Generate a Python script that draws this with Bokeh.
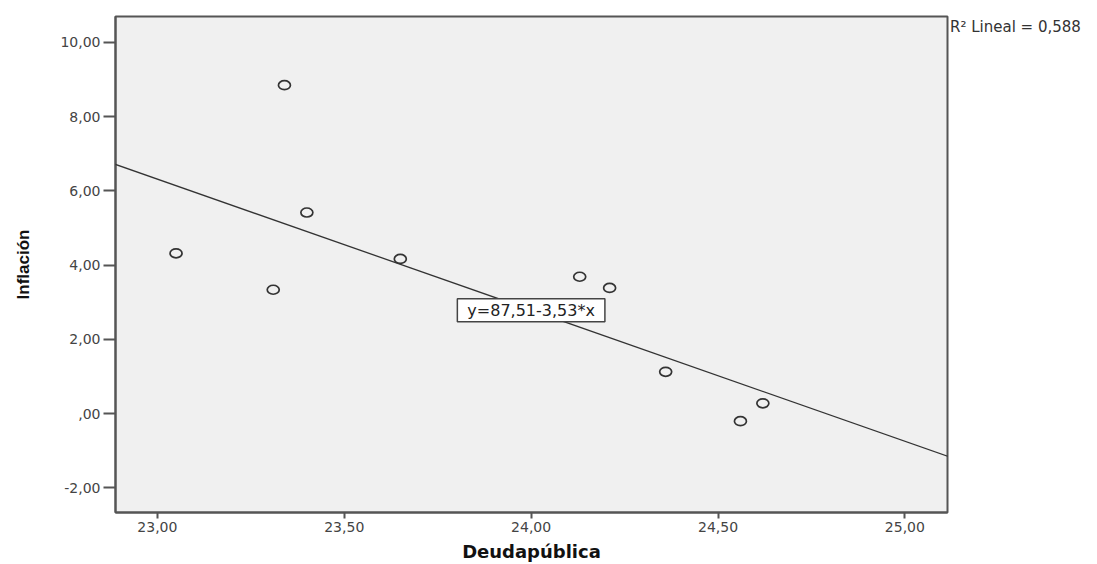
from bokeh.plotting import figure
from bokeh.models import (Range1d, FixedTicker, CustomJSTickFormatter, Slope, Label, Div)
from bokeh.layouts import row
from bokeh.embed import file_html
from bokeh.resources import INLINE

# ---- data ----
deuda = [23.34, 23.40, 23.05, 23.65, 23.31, 24.13, 24.21, 24.36, 24.62, 24.56]
inflacion = [8.85, 5.42, 4.32, 4.17, 3.34, 3.69, 3.39, 1.13, 0.28, -0.20]
intercept = 87.51
slope = -3.53
r2 = 0.588
x_ticks = [23.0, 23.5, 24.0, 24.5, 25.0]
y_ticks = [-2, 0, 2, 4, 6, 8, 10]
eq_text = "y=87,51-3,53*x"
r2_text = "R\u00b2 Lineal = 0,588"

X0, X1 = 22.888, 25.114
Y0, Y1 = -2.66, 10.70

p = figure(width=949, height=564, output_backend="svg", toolbar_location=None,
           x_range=Range1d(X0, X1), y_range=Range1d(Y0, Y1))
p.min_border_left = 115
p.min_border_right = 2
p.min_border_top = 16
p.min_border_bottom = 52
p.background_fill_color = "#f0f0f0"
p.border_fill_color = "white"
p.outline_line_color = "#555555"
p.outline_line_width = 2
p.grid.visible = False

fmt = CustomJSTickFormatter(code="""
let s = tick.toFixed(2).replace('.', ',');
if (s.startsWith('0,')) s = s.slice(1);
if (s.startsWith('-0,')) s = '-' + s.slice(2);
return s;
""")

for ax in (p.xaxis[0], p.yaxis[0]):
    ax.formatter = fmt
    ax.minor_tick_line_color = None
    ax.axis_line_color = "#555555"
    ax.axis_line_width = 2
    ax.major_tick_line_color = "#555555"
    ax.major_tick_line_width = 2
    ax.major_tick_in = 0
    ax.major_label_text_font = "DejaVu Sans"
    ax.major_label_text_font_size = "14px"
    ax.major_label_text_color = "#444444"
    ax.axis_label_text_color = "#111111"
    ax.axis_label_text_font_style = "bold"

p.xaxis.ticker = FixedTicker(ticks=x_ticks)
p.yaxis.ticker = FixedTicker(ticks=y_ticks)
p.xaxis.major_tick_out = 6
p.yaxis.major_tick_out = 12
p.xaxis.major_label_standoff = 3
p.yaxis.major_label_standoff = 3

p.xaxis.axis_label = "Deudapública"
p.xaxis.axis_label_text_font = "DejaVu Sans"
p.xaxis.axis_label_text_font_size = "18px"
p.xaxis.axis_label_standoff = 6
p.yaxis.axis_label = "Inflación"
p.yaxis.axis_label_text_font = "Liberation Sans"
p.yaxis.axis_label_text_font_size = "17px"
p.yaxis.axis_label_standoff = 24

# fit line
p.add_layout(Slope(gradient=slope, y_intercept=intercept,
                   line_color="#333333", line_width=1.3))

# points
p.ellipse(x=deuda, y=inflacion, width=12, height=9,
          width_units="screen", height_units="screen",
          fill_color=None, line_color="#333333", line_width=1.7)

# equation box
p.add_layout(Label(x=24.0, y=2.79, text=eq_text, text_align="center",
                   text_baseline="middle", text_font="DejaVu Sans",
                   text_font_size="16px", text_color="#222222",
                   background_fill_color="white", border_line_color="#444444",
                   border_line_width=1.5,
                   padding=dict(left=10, right=10, top=2, bottom=2)))

# R2 annotation to the right of the frame
r2_div = Div(text=r2_text, width=148, height=564, margin=(0, 0, 0, 0),
             styles={"font-family": "DejaVu Sans", "font-size": "15px",
                     "color": "#333333", "padding-top": "17px",
                     "padding-left": "1px", "white-space": "nowrap",
                     "background-color": "white"})

layout = row(p, r2_div, spacing=0)

open("out.html", "w").write(file_html(layout, INLINE))
